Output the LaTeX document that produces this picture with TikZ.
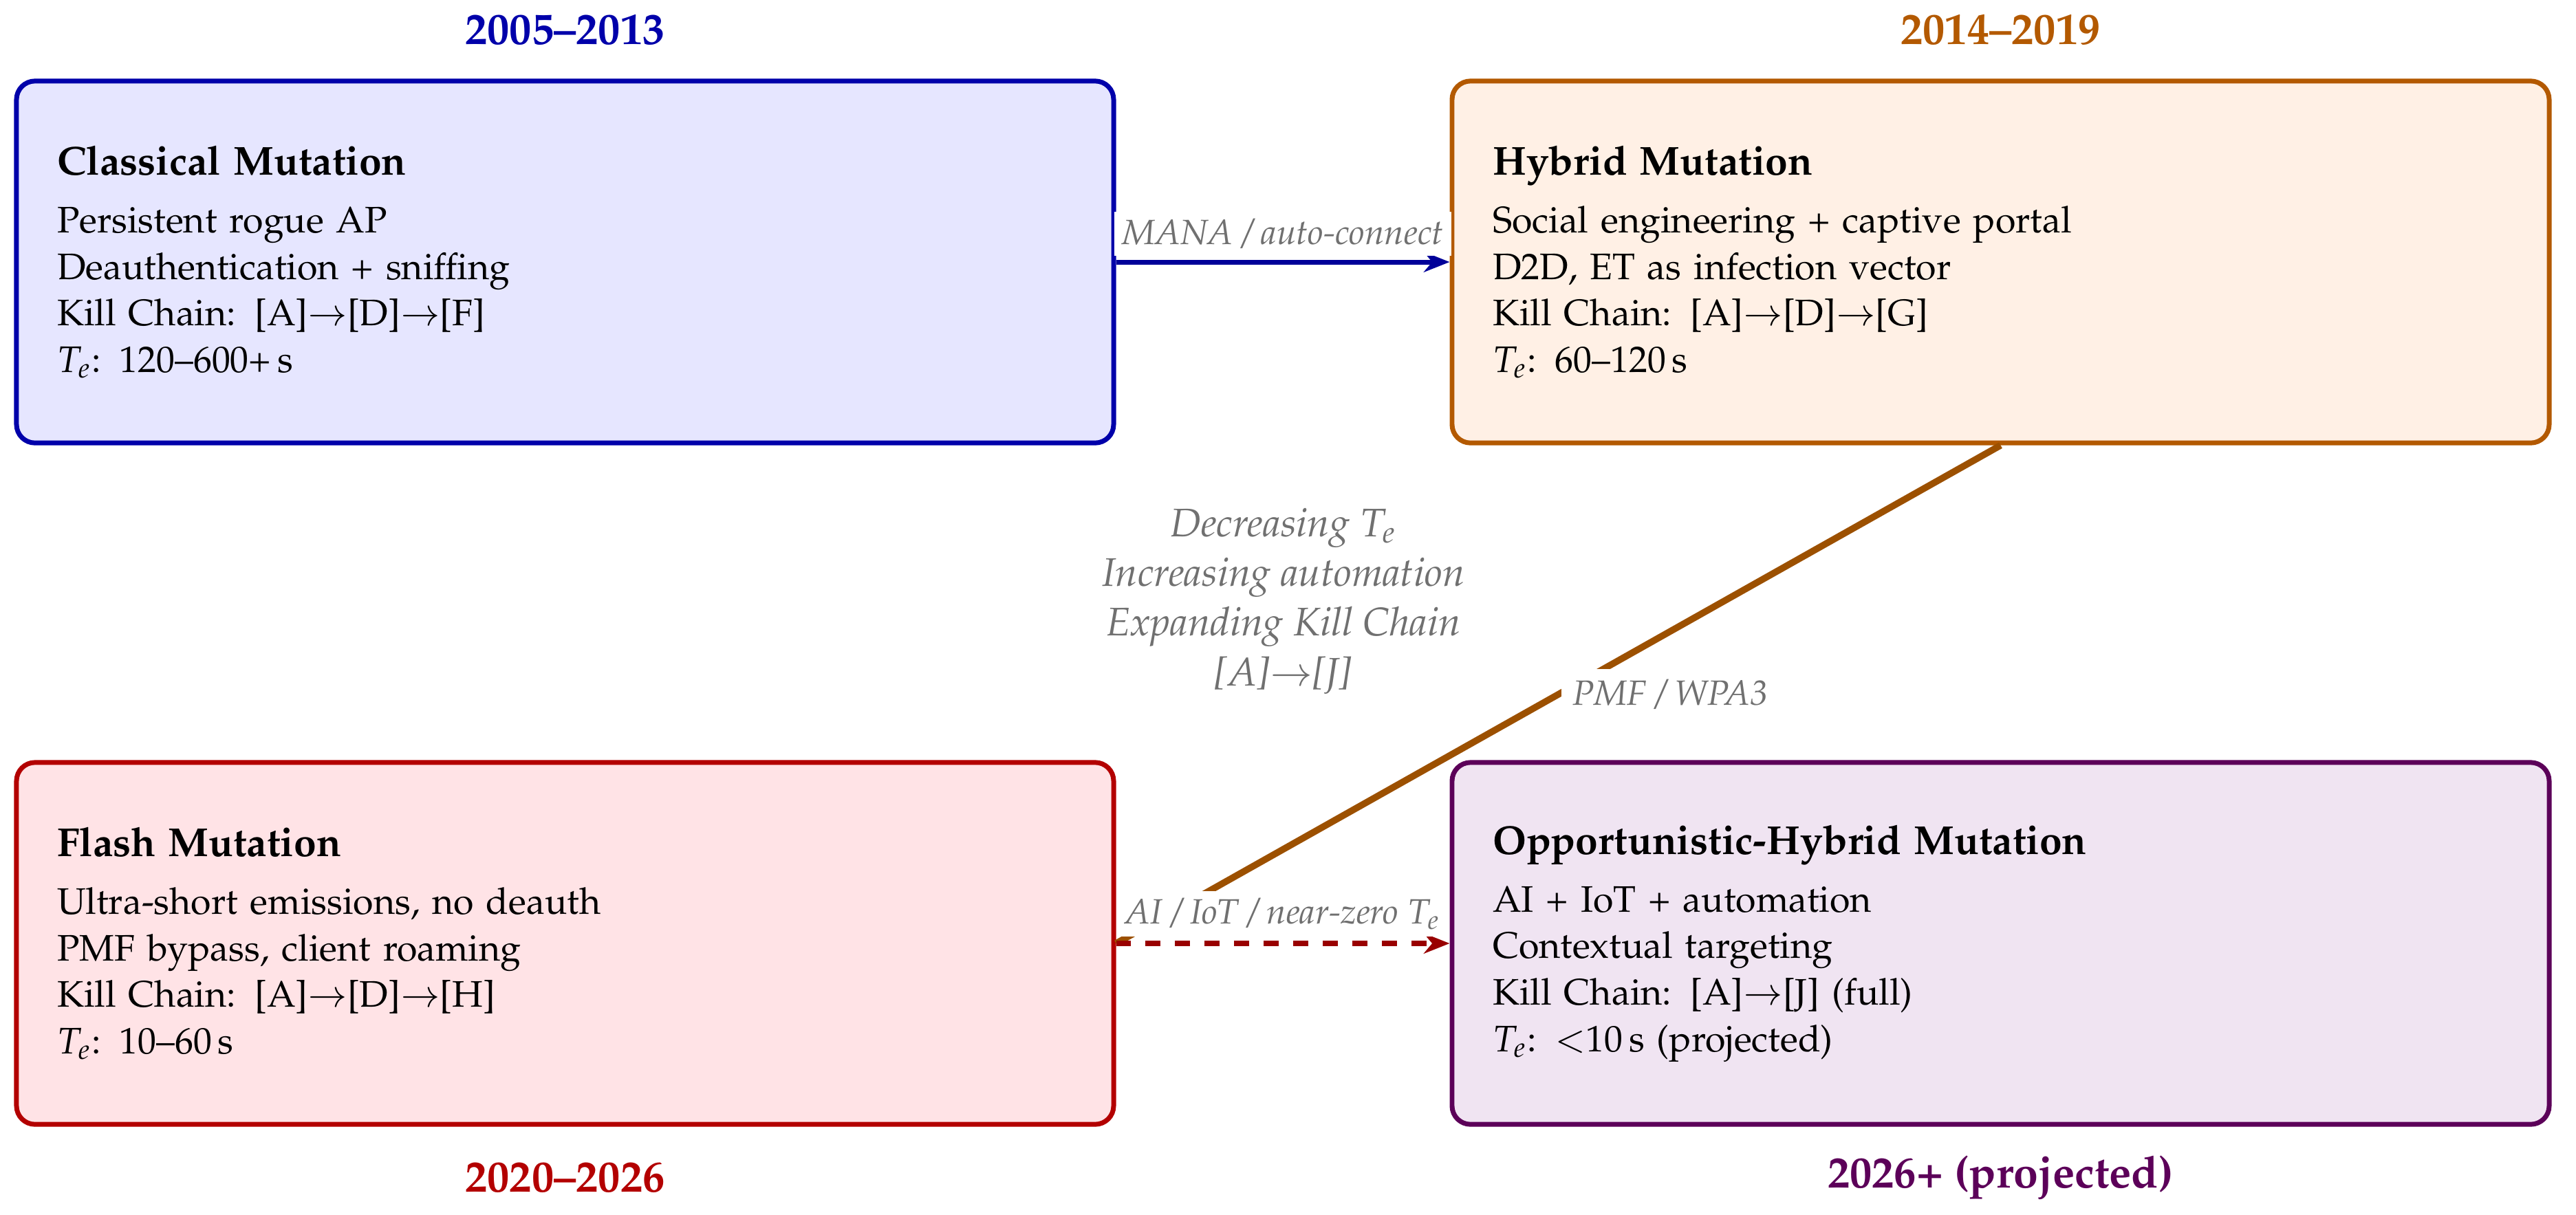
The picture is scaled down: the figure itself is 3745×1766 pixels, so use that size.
\documentclass[tikz,border=0pt]{standalone}
\usepackage[T1]{fontenc}
\usepackage{mathpazo}
\usetikzlibrary{arrows.meta,calc}
\linespread{1.05}
\definecolor{cBlue}{HTML}{0000AA}
\definecolor{cBlueA}{HTML}{000099}
\definecolor{cBlueF}{HTML}{E6E6FF}
\definecolor{cOrange}{HTML}{B35900}
\definecolor{cOrangeF}{HTML}{FFF0E5}
\definecolor{cBrown}{HTML}{9C5000}
\definecolor{cRed}{HTML}{B30000}
\definecolor{cRedA}{HTML}{990000}
\definecolor{cRedF}{HTML}{FFE3E6}
\definecolor{cPurple}{HTML}{5C0059}
\definecolor{cPurpleF}{HTML}{F0E4F2}
\definecolor{cGray}{HTML}{707070}
\newcommand{\boxtitle}[1]{{\fontsize{10.95}{13}\selectfont\bfseries #1}}
\begin{document}
\begin{tikzpicture}[x=0.1862pt,y=-0.1862pt,
  era/.style={draw, rounded corners=5pt, line width=1.3pt, minimum width=297pt,
    minimum height=98pt, text width=275pt, inner xsep=11pt, align=left},
  yearlbl/.style={font=\large\bfseries},
  edgelbl/.style={font=\fontsize{9.5}{11.5}\selectfont\itshape, text=cGray, fill=white, inner sep=2pt},
  midtext/.style={font=\fontsize{10.8}{12.8}\selectfont\itshape, text=cGray, align=center},
  tipstyle/.style={-{Stealth[length=7pt,width=5.5pt]}},
]
\useasboundingbox (0,0) rectangle (3745,1766);

\node[era, draw=cBlue, fill=cBlueF] (classical) at (821.5,381)
  {\boxtitle{Classical Mutation}\\[3pt]
   Persistent rogue AP\\
   Deauthentication + sniffing\\
   Kill Chain: [A]$\to$[D]$\to$[F]\\
   $T_e$: 120--600+\,s};
\node[era, draw=cOrange, fill=cOrangeF] (hybrid) at (2908.5,381)
  {\boxtitle{Hybrid Mutation}\\[3pt]
   Social engineering + captive portal\\
   D2D, ET as infection vector\\
   Kill Chain: [A]$\to$[D]$\to$[G]\\
   $T_e$: 60--120\,s};
\node[era, draw=cRed, fill=cRedF] (flash) at (821.5,1372)
  {\boxtitle{Flash Mutation}\\[3pt]
   Ultra-short emissions, no deauth\\
   PMF bypass, client roaming\\
   Kill Chain: [A]$\to$[D]$\to$[H]\\
   $T_e$: 10--60\,s};
\node[era, draw=cPurple, fill=cPurpleF] (opp) at (2908.5,1372)
  {\boxtitle{Opportunistic-Hybrid Mutation}\\[3pt]
   AI + IoT + automation\\
   Contextual targeting\\
   Kill Chain: [A]$\to$[J] (full)\\
   $T_e$: $<$10\,s (projected)};

\node[yearlbl, text=cBlue] (y1) at (821.5,43) {2005--2013};
\node[yearlbl, text=cOrange] (y2) at (2908.5,43) {2014--2019};
\node[yearlbl, text=cRed] (y3) at (821.5,1712) {2020--2026};
\node[yearlbl, text=cPurple] (y4) at (2908.5,1712) {2026+ (projected)};

\node[midtext] (trend) at (1866,874)
  {Decreasing $T_e$\\ Increasing automation\\ Expanding Kill Chain\\ {[A]$\to$[J]}};

\draw[line width=1.3pt, draw=cBlueA, tipstyle] (classical.east) --
  node[edgelbl, above=1pt] {MANA / auto-connect} (hybrid.west);
\draw[line width=1.8pt, draw=cBrown] (hybrid.south) --
  node[edgelbl, pos=0.5, anchor=west, inner sep=3pt] {PMF / WPA3} (flash.east);
\draw[line width=1.6pt, draw=cRedA, dash pattern=on 4pt off 4pt, tipstyle] (flash.east) --
  node[edgelbl, above=1pt] {AI / IoT / near-zero $T_e$} (opp.west);
\end{tikzpicture}
\end{document}
